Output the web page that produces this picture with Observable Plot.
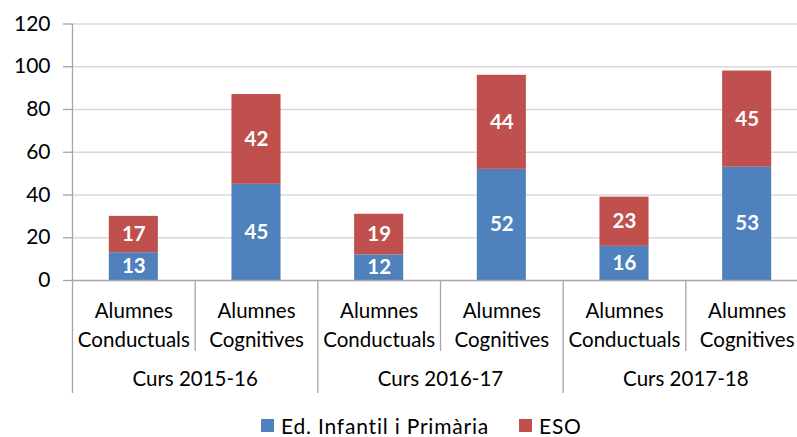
<!DOCTYPE html>
<html>
<head>
<meta charset="utf-8">
<script src="https://cdn.jsdelivr.net/npm/d3@7"></script>
<script src="https://cdn.jsdelivr.net/npm/@observablehq/plot@0.6"></script>
<style>
  html, body { margin: 0; padding: 0; background: #fff; overflow: hidden; }
  #wrap { width: 797px; height: 437px; position: relative; font-family: Lato, "Open Sans", sans-serif; }
  #legend { position: absolute; left: 0; top: 414px; width: 797px; height: 23px; font-size: 21px; line-height: 23px; letter-spacing: 0.8px; color: #000; }
  .item { position: absolute; top: 0; height: 23px; display: flex; align-items: center; white-space: nowrap; }
  .sw { width: 13px; height: 13px; margin-right: 7px; }
</style>
</head>
<body>
<div id="wrap"><div id="chart"></div><div id="legend"></div></div>
<script>
const years = ["Curs 2015-16", "Curs 2016-17", "Curs 2017-18"];
const types = ["Alumnes\nConductuals", "Alumnes\nCognitives"];
const seriesNames = ["Ed. Infantil i Primària", "ESO"];
const seriesColors = ["#4F81BD", "#C0504D"];
const primaria = [13, 45, 12, 52, 16, 53];
const eso = [17, 42, 19, 44, 23, 45];
const yTicks = [0, 20, 40, 60, 80, 100, 120];

const W = 797, H = 405, mTop = 23.5, mBottom = H - 280, mLeft = 72, mRight = -11;
const pxPerUnit = (H - mBottom - mTop) / 120;
const toUnits = px => -px / pxPerUnit;

const cats = [];
years.forEach((yr, j) => types.forEach((t, k) => cats.push({i: j * 2 + k, year: yr, type: t})));

const rows = [];
cats.forEach((c, i) => {
  rows.push({i, series: seriesNames[0], y1: 0, y2: primaria[i], v: primaria[i]});
  rows.push({i, series: seriesNames[1], y1: primaria[i], y2: primaria[i] + eso[i], v: eso[i]});
});

const innerSeps = cats.filter(c => c.i % 2 === 1).map(c => c.i);
const outerSeps = [0, ...years.map((y, j) => j * 2 + 2)];

const axisColor = "#A6A6A6";
const plot = Plot.plot({
  width: W, height: H,
  marginTop: mTop, marginBottom: mBottom, marginLeft: mLeft, marginRight: mRight,
  style: {fontFamily: "Lato, 'Open Sans', sans-serif", fontSize: "20px", color: "#000", background: "#fff", overflow: "visible"},
  x: {type: "linear", domain: [0, cats.length], axis: null},
  y: {domain: [0, 120], ticks: yTicks, axis: null},
  color: {domain: seriesNames, range: seriesColors},
  marks: [
    Plot.ruleY(yTicks.filter(t => t > 0), {stroke: "#D9D9D9", strokeWidth: 1.3}),
    Plot.axisY({ticks: yTicks, tickSize: 9, tickPadding: 13, stroke: axisColor, fill: "#000", fontSize: 21, strokeOpacity: 1, strokeWidth: 1.3}),
    Plot.rect(rows, {x1: d => d.i + 0.3, x2: d => d.i + 0.7, y1: "y1", y2: "y2", fill: "series"}),
    Plot.text(rows, {x: d => d.i + 0.5, y: d => (d.y1 + d.y2) / 2, text: d => String(d.v), fill: "white", fontWeight: "bold", fontSize: 20.5}),
    Plot.ruleY([0], {stroke: axisColor, strokeWidth: 1.3}),
    Plot.ruleX([0], {y1: 120, y2: toUnits(113), stroke: axisColor, strokeWidth: 1.3}),
    Plot.ruleX(innerSeps, {y1: 0, y2: toUnits(71), stroke: axisColor, strokeWidth: 1.3}),
    Plot.ruleX(outerSeps.slice(1), {y1: 0, y2: toUnits(113), stroke: axisColor, strokeWidth: 1.3}),
    Plot.text(cats, {x: d => d.i + 0.5, y: 0, dy: 43, text: "type", lineHeight: 1.37, fontSize: 20.5, fill: "#000"}),
    Plot.text(years, {x: (d, j) => j * 2 + 1, y: 0, dy: 99, text: d => d, fontSize: 20.5, fill: "#000"})
  ]
});
document.getElementById("chart").appendChild(plot);

const legend = document.getElementById("legend");
const lefts = [261, 519];
seriesNames.forEach((s, k) => {
  const it = document.createElement("div");
  it.className = "item";
  it.style.left = lefts[k] + "px";
  it.innerHTML = `<span class="sw" style="background:${seriesColors[k]}"></span><span>${s}</span>`;
  legend.appendChild(it);
});
</script>
</body>
</html>
